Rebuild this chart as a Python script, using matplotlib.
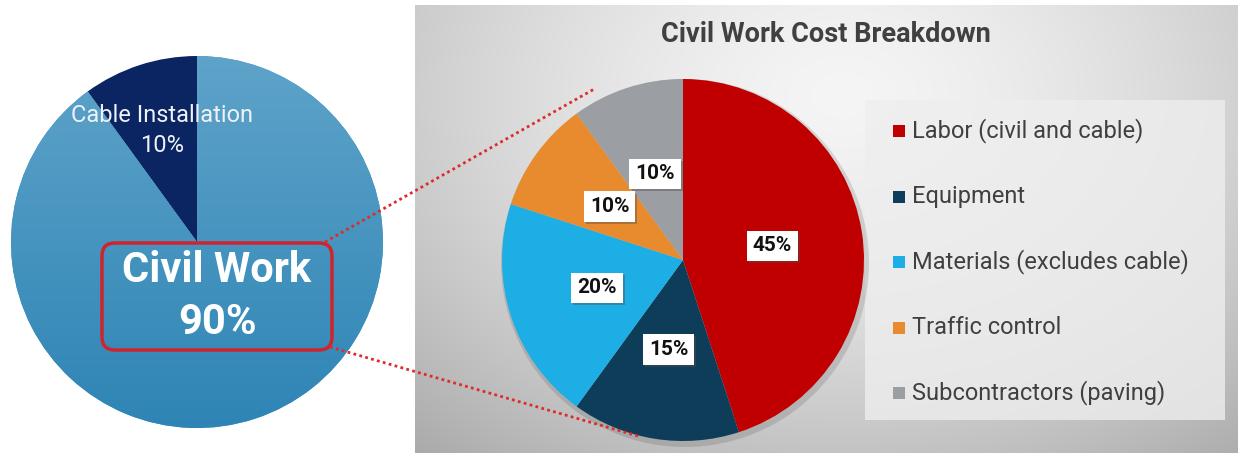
import numpy as np
import matplotlib
matplotlib.use('Agg')
import matplotlib.pyplot as plt
from matplotlib.patches import FancyBboxPatch, Rectangle, Circle
import matplotlib.patheffects as pe

# ---------------- data ----------------
overview_labels = ['Civil Work', 'Cable Installation']
overview_values = [90, 10]
breakdown_title = 'Civil Work Cost Breakdown'
breakdown_labels = ['Labor (civil and cable)', 'Equipment', 'Materials (excludes cable)',
                    'Traffic control', 'Subcontractors (paving)']
breakdown_values = [45, 15, 20, 10, 10]
breakdown_colors = ['#c00000', '#0e3d5a', '#1eaee6', '#e88b2e', '#9b9fa4']

W, H = 1238, 453
plt.rcParams['font.family'] = ['Roboto', 'DejaVu Sans']

fig = plt.figure(figsize=(W / 100, H / 100), dpi=100)
fig.patch.set_facecolor('white')
ax = fig.add_axes([0, 0, 1, 1])


def Y(py):
    return H - py


# ---------------- right panel background ----------------
px0, px1, py0, py1 = 415, W, 5, H
gx = np.linspace(0, 1, 400)
gy = np.linspace(0, 1, 220)
XX, YY = np.meshgrid(gx, gy)
d = np.sqrt(((XX - 0.52) / 0.72) ** 2 + ((YY - 0.2) / 0.95) ** 2)
val = 0.96 - 0.25 * np.clip(d, 0, 1.3) ** 1.5
img = np.dstack([val, val, val])
ax.imshow(img, extent=(px0, px1, Y(py1), Y(py0)), origin='upper', aspect='auto',
          interpolation='bilinear', zorder=0)

# legend box
ax.add_patch(Rectangle((865, Y(420)), 360, 320, facecolor='#eeeeee', edgecolor='none',
                       alpha=0.8, zorder=1))

# title
ax.text(826, Y(35), breakdown_title, ha='center', va='center', fontsize=19.5,
        fontweight='bold', color='#404040', zorder=5)

# ---------------- left pie ----------------
lc = (197, Y(242))
lr = 186
wedges_l, _ = ax.pie(overview_values, startangle=90, counterclock=False,
                     colors=['#4596c0', '#0b2462'], center=lc, radius=lr,
                     wedgeprops=dict(edgecolor='none', linewidth=0), frame=True)
# vertical gradient on civil work wedge
grad = np.linspace(0, 1, 256)[:, None]
top = np.array([0.37, 0.64, 0.79])
bot = np.array([0.18, 0.52, 0.71])
gimg = (top[None, None, :] * (1 - grad[:, :, None]) + bot[None, None, :] * grad[:, :, None])
gimg = np.repeat(gimg, 2, axis=1)
im = ax.imshow(gimg, extent=(lc[0] - lr, lc[0] + lr, lc[1] - lr, lc[1] + lr),
               origin='upper', aspect='auto', zorder=2)
im.set_clip_path(wedges_l[0])

ax.text(162, Y(115), overview_labels[1], ha='center', va='center', fontsize=17,
        color='#eef2f8', zorder=6)
ax.text(162, Y(145), f'{overview_values[1]}%', ha='center', va='center', fontsize=17,
        color='#eef2f8', zorder=6)

# red rounded box
ax.add_patch(FancyBboxPatch((102, Y(350)), 230, 107, boxstyle='round,pad=0,rounding_size=13',
                            facecolor='none', edgecolor='#d0242c', linewidth=2.5, zorder=6))
ax.text(217, Y(271), overview_labels[0], ha='center', va='center', fontsize=30,
        fontweight='bold', color='white', zorder=7)
ax.text(217, Y(322), f'{overview_values[0]}%', ha='center', va='center', fontsize=30,
        fontweight='bold', color='white', zorder=7)

# dotted connector lines
ax.plot([325, 596], [Y(242), Y(88)], linestyle=(0, (1, 1.2)), color='#e02a2a', lw=2, zorder=8)
ax.plot([330, 638], [Y(347), Y(436)], linestyle=(0, (1, 1.2)), color='#e02a2a', lw=2, zorder=8)

# ---------------- right pie ----------------
rc = (683, Y(260))
rr = 181
ax.add_patch(Circle((rc[0] + 2, rc[1] - 3), rr + 3, facecolor='#000000', alpha=0.12,
                    edgecolor='none', zorder=2))
wedges_r, _, autotexts = ax.pie(breakdown_values, startangle=90, counterclock=False,
                                colors=breakdown_colors, center=rc, radius=rr,
                                autopct='%.0f%%', pctdistance=0.5,
                                wedgeprops=dict(edgecolor='none', linewidth=0), frame=True)
for w in wedges_r:
    w.set_zorder(3)
for t in autotexts:
    t.set_fontsize(15)
    t.set_fontweight('bold')
    t.set_color('#111111')
    t.set_zorder(9)
    t.set_bbox(dict(boxstyle='square,pad=0.28', facecolor='white', edgecolor='none'))
    t.get_bbox_patch().set_path_effects([pe.SimplePatchShadow(offset=(1.5, -1.5), alpha=0.4),
                                         pe.Normal()])

# legend entries
for i, (lab, col) in enumerate(zip(breakdown_labels, breakdown_colors)):
    yy = Y(131 + i * 65.5)
    ax.add_patch(Rectangle((893, yy - 6), 12, 12, facecolor=col, edgecolor='none', zorder=6))
    ax.text(912, yy, lab, ha='left', va='center', fontsize=17, color='#404040', zorder=6)

ax.set_xlim(0, W)
ax.set_ylim(0, H)
ax.set_aspect('auto')
ax.axis('off')

fig.savefig('out.png', dpi=100)
